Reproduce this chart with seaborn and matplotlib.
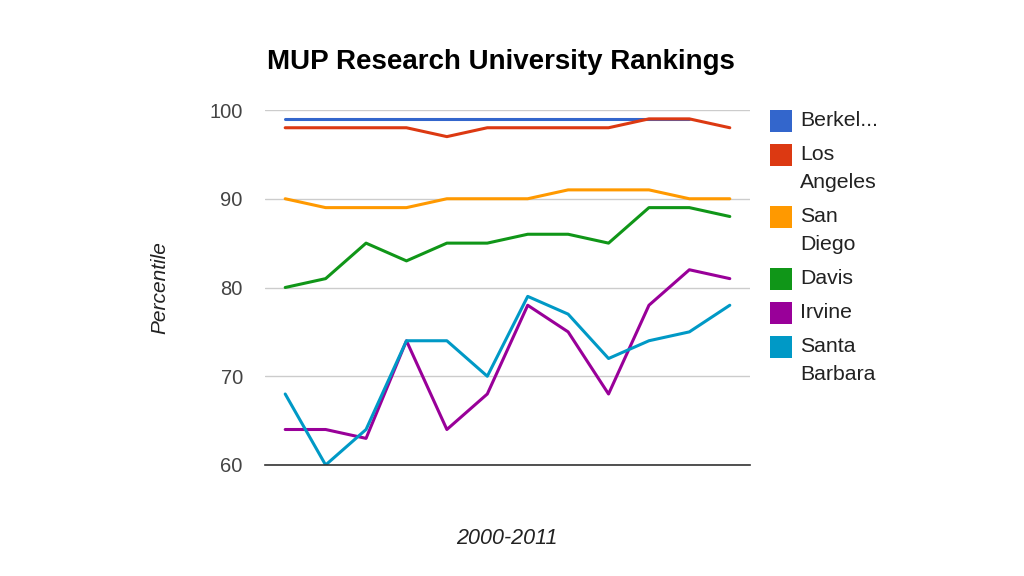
import matplotlib

matplotlib.use("Agg")
import matplotlib.pyplot as plt
import numpy as np
import pandas as pd
import seaborn as sns
from matplotlib.patches import Rectangle

years = list(range(2000, 2012))
campuses = ["Berkeley", "Los Angeles", "San Diego", "Davis", "Irvine", "Santa Barbara"]
legend_labels = ["Berkel...", "Los\nAngeles", "San\nDiego", "Davis", "Irvine", "Santa\nBarbara"]
colors = ["#3366cc", "#dc3912", "#ff9900", "#109618", "#990099", "#0099c6"]

berkeley = [99, 99, 99, 99, 99, 99, 99, 99, 99, 99, 99, np.nan]
los_angeles = [98, 98, 98, 98, 97, 98, 98, 98, 98, 99, 99, 98]
san_diego = [90, 89, 89, 89, 90, 90, 90, 91, 91, 91, 90, 90]
davis = [80, 81, 85, 83, 85, 85, 86, 86, 85, 89, 89, 88]
irvine = [64, 64, 63, 74, 64, 68, 78, 75, 68, 78, 82, 81]
santa_barbara = [68, 60, 64, 74, 74, 70, 79, 77, 72, 74, 75, 78]

series = [berkeley, los_angeles, san_diego, davis, irvine, santa_barbara]
df = pd.concat(
    [pd.DataFrame({"year": years, "percentile": vals, "campus": name}) for name, vals in zip(campuses, series)],
    ignore_index=True,
)

sns.set_theme(style="white")
plt.rcParams["font.family"] = ["Liberation Sans", "DejaVu Sans"]

W, H = 1024, 576
fig = plt.figure(figsize=(W / 100, H / 100), dpi=100)
ax = fig.add_axes([265 / W, 1 - 465 / H, 485 / W, 355 / H])

sns.lineplot(
    data=df,
    x="year",
    y="percentile",
    hue="campus",
    hue_order=campuses,
    palette=colors,
    linewidth=2.2,
    legend=False,
    ax=ax,
)

ax.set_xlim(1999.5, 2011.5)
ax.set_ylim(60, 100)
ax.set_yticks([60, 70, 80, 90, 100])
ax.set_xticks([])
ax.set_xlabel("")
ax.set_ylabel("")
ax.grid(axis="y", color="#cccccc", linewidth=1)
ax.set_axisbelow(True)
for s in ["top", "right", "left"]:
    ax.spines[s].set_visible(False)
ax.spines["bottom"].set_color("#333333")
ax.spines["bottom"].set_linewidth(1.2)
ax.tick_params(axis="y", length=0, pad=16, labelsize=14.5, labelcolor="#444444")

fig.text(501 / W, 1 - 62 / H, "MUP Research University Rankings", ha="center", va="center",
         fontsize=20, fontweight="bold", color="black")
fig.text(507 / W, 1 - 538 / H, "2000-2011", ha="center", va="center",
         fontsize=15.5, style="italic", color="#222222")
fig.text(160 / W, 1 - 288 / H, "Percentile", ha="center", va="center", rotation=90,
         fontsize=15, style="italic", color="#222222")

# legend drawn by hand so wrapped labels line up like the original
y = 121
for c, lab in zip(colors, legend_labels):
    fig.add_artist(Rectangle((770 / W, 1 - (y + 11) / H), 22 / W, 22 / H,
                             transform=fig.transFigure, facecolor=c, edgecolor="none"))
    for i, line in enumerate(lab.split("\n")):
        fig.text(800 / W, 1 - (y + 28 * i) / H, line, ha="left", va="center",
                 fontsize=15.3, color="#222222")
    y += 34 + 28 * lab.count("\n")

fig.savefig("out.png", dpi=100)
